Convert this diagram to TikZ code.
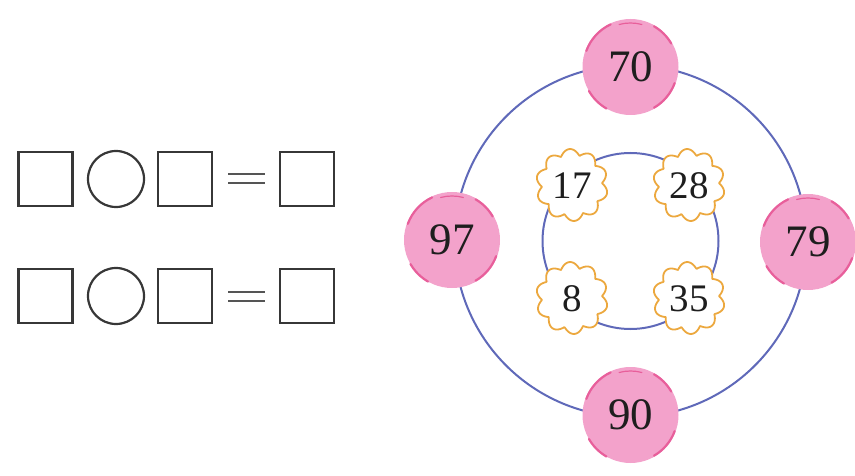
\documentclass[tikz,border=0pt]{standalone}
\usepackage{fontspec}
\setmainfont{Liberation Serif}
\definecolor{ringblue}{RGB}{95,105,185}
\definecolor{pinkfill}{RGB}{243,162,203}
\definecolor{pinkedge}{RGB}{232,95,155}
\definecolor{flowerorange}{RGB}{236,168,62}
\definecolor{boxgray}{RGB}{55,55,55}
\definecolor{numtext}{RGB}{30,30,30}
\tikzset{
  ring/.style={draw=ringblue, line width=2pt},
  box/.style={draw=boxgray, line width=2.2pt, minimum width=54pt, minimum height=54pt, inner sep=0pt},
  opcircle/.style={draw=boxgray, line width=2.2pt, circle, minimum size=56pt, inner sep=0pt},
  eqline/.style={draw=boxgray!85, line width=2.2pt},
  pinknum/.style={circle, fill=pinkfill, minimum size=96pt, inner sep=0pt, text=numtext, font=\fontsize{45}{47}\selectfont},
  flowernum/.style={inner sep=0pt, text=numtext, font=\fontsize{39}{42}\selectfont},
  flowerline/.style={draw=flowerorange, fill=white, line width=1.8pt},
  brush/.style={draw=pinkedge, line width=2.2pt, line cap=round},
}
\begin{document}
\begin{tikzpicture}[x=1pt,y=-1pt]
\useasboundingbox (0,0) rectangle (855,476);
% left equations
\foreach \r/\yy/\ya/\yb in {1/179/174/183, 2/296/292/301}{
  \node[box] (sa\r) at (45.5,\yy) {};
  \node[opcircle] (op\r) at (116,\yy) {};
  \node[box] (sb\r) at (185,\yy) {};
  \coordinate (ea\r) at (228,\ya);
  \coordinate (eb\r) at (265,\ya);
  \coordinate (ec\r) at (228,\yb);
  \coordinate (ed\r) at (265,\yb);
  \draw[eqline] (ea\r) -- (eb\r);
  \draw[eqline] (ec\r) -- (ed\r);
  \node[box] (sc\r) at (307,\yy) {};
}
% rings
\coordinate (ctr) at (630.5,241);
\draw[ring] (ctr) circle[radius=176];
\draw[ring] (ctr) circle[radius=88];
% flowers
\foreach \n/\fx/\fy in {17/572/185, 28/689/185, 8/572/298, 35/689/298}{
  \draw[flowerline, shift={(\fx,\fy)}] plot[domain=0:360, samples=241, smooth] (\x:{30+6*abs(sin(5*\x+18))}) -- cycle;
  \node[flowernum] (f\n) at (\fx,\fy+1) {\n};
}
% pink circles
\foreach \n/\px/\py in {70/630.5/67, 97/452/240, 79/808/242, 90/630.5/415}{
  \node[pinknum] (p\n) at (\px,\py) {\n};
  \draw[brush] ([shift={(200:47)}]p\n.center) arc (200:245:47);
  \draw[brush] ([shift={(120:48)}]p\n.center) arc (120:150:48);
  \draw[brush] ([shift={(20:47)}]p\n.center) arc (20:60:47);
  \draw[brush] ([shift={(300:47)}]p\n.center) arc (300:330:47);
  \draw[brush, line width=1.2pt] ([shift={(255:44)}]p\n.center) arc (255:285:44);
}
\end{tikzpicture}
\end{document}
